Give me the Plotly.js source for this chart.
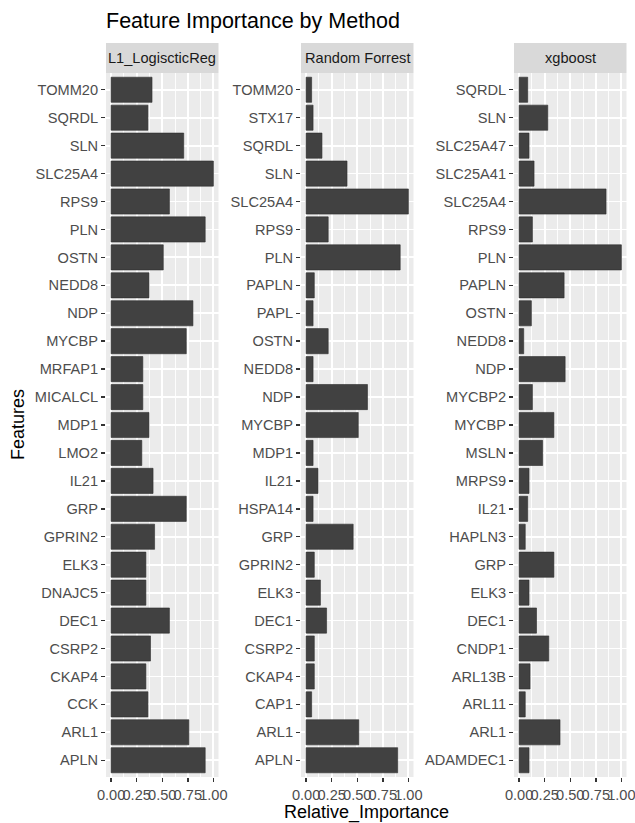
<!DOCTYPE html>
<html>
<head>
<meta charset="utf-8">
<script src="https://cdn.plot.ly/plotly-3.0.1.min.js"></script>
<style>
  html, body { margin: 0; padding: 0; background: #ffffff; }
  #chart { width: 635px; height: 823px; }
</style>
</head>
<body>
<div id="chart"></div>
<script>
// Facet labels, one per model
const methods = ['L1_LogiscticReg', 'Random Forrest', 'xgboost'];

// Features listed top to bottom within each facet
const l1Features = ['TOMM20', 'SQRDL', 'SLN', 'SLC25A4', 'RPS9', 'PLN', 'OSTN', 'NEDD8', 'NDP', 'MYCBP',
  'MRFAP1', 'MICALCL', 'MDP1', 'LMO2', 'IL21', 'GRP', 'GPRIN2', 'ELK3', 'DNAJC5', 'DEC1',
  'CSRP2', 'CKAP4', 'CCK', 'ARL1', 'APLN'];
const l1Importance = [0.40, 0.36, 0.71, 1.00, 0.57, 0.92, 0.51, 0.37, 0.80, 0.735,
  0.31, 0.31, 0.37, 0.30, 0.41, 0.735, 0.425, 0.34, 0.34, 0.57,
  0.385, 0.34, 0.36, 0.76, 0.92];

const rfFeatures = ['TOMM20', 'STX17', 'SQRDL', 'SLN', 'SLC25A4', 'RPS9', 'PLN', 'PAPLN', 'PAPL', 'OSTN',
  'NEDD8', 'NDP', 'MYCBP', 'MDP1', 'IL21', 'HSPA14', 'GRP', 'GPRIN2', 'ELK3', 'DEC1',
  'CSRP2', 'CKAP4', 'CAP1', 'ARL1', 'APLN'];
const rfImportance = [0.054, 0.068, 0.155, 0.40, 1.00, 0.216, 0.92, 0.08, 0.068, 0.216,
  0.068, 0.60, 0.51, 0.068, 0.116, 0.068, 0.46, 0.08, 0.14, 0.20,
  0.08, 0.08, 0.054, 0.515, 0.895];

const xgbFeatures = ['SQRDL', 'SLN', 'SLC25A47', 'SLC25A41', 'SLC25A4', 'RPS9', 'PLN', 'PAPLN', 'OSTN', 'NEDD8',
  'NDP', 'MYCBP2', 'MYCBP', 'MSLN', 'MRPS9', 'IL21', 'HAPLN3', 'GRP', 'ELK3', 'DEC1',
  'CNDP1', 'ARL13B', 'ARL11', 'ARL1', 'ADAMDEC1'];
const xgbImportance = [0.084, 0.28, 0.097, 0.146, 0.85, 0.13, 1.00, 0.44, 0.12, 0.045,
  0.45, 0.13, 0.34, 0.23, 0.097, 0.084, 0.06, 0.34, 0.097, 0.17,
  0.29, 0.107, 0.06, 0.40, 0.097];

const xTickVals = [0, 0.25, 0.5, 0.75, 1.0];
const xTickText = ['0.00', '0.25', '0.50', '0.75', '1.00'];

const W = 635, H = 823;
const FONT = 'Liberation Sans, Arial, Helvetica, sans-serif';

// Panel placement in pixels
const panelX = [[106, 218.5], [301, 413.5], [514, 626.5]];
const panelTop = 73, panelBottom = 777, stripTop = 43;

const featureSets = [l1Features, rfFeatures, xgbFeatures];
const valueSets = [l1Importance, rfImportance, xgbImportance];

const traces = [];
const layout = {
  width: W, height: H,
  margin: { l: 0, r: 0, t: 0, b: 0 },
  paper_bgcolor: '#ffffff',
  plot_bgcolor: '#EBEBEB',
  showlegend: false,
  font: { family: FONT, color: '#4D4D4D' },
  title: {
    text: 'Feature Importance by Method',
    x: 106 / W, xref: 'paper', xanchor: 'left',
    y: 1 - 20 / H, yref: 'paper', yanchor: 'middle',
    font: { family: FONT, size: 21.5, color: '#000000' }
  },
  shapes: [],
  annotations: []
};

for (let i = 0; i < 3; i++) {
  const sfx = i === 0 ? '' : String(i + 1);
  traces.push({
    type: 'bar',
    orientation: 'h',
    x: valueSets[i],
    y: featureSets[i],
    xaxis: 'x' + sfx,
    yaxis: 'y' + sfx,
    width: 0.9,
    marker: { color: '#414141', line: { color: '#2E2E2E', width: 0.6 } },
    hoverinfo: 'x+y'
  });

  const n = featureSets[i].length;
  layout['xaxis' + sfx] = {
    domain: [panelX[i][0] / W, panelX[i][1] / W],
    anchor: 'y' + sfx,
    range: [-0.05, 1.05],
    tickmode: 'array',
    tickvals: xTickVals,
    ticktext: xTickText,
    tickangle: 0,
    ticklabeloverflow: 'allow',
    ticks: 'outside', ticklen: 4, tickwidth: 1.4, tickcolor: '#333333',
    tickfont: { family: FONT, size: 14.6, color: '#4D4D4D' },
    showgrid: true, gridcolor: '#FFFFFF', gridwidth: 1.8,
    minor: { tickmode: 'array', tickvals: [0.125, 0.375, 0.625, 0.875], showgrid: true, gridcolor: '#FFFFFF', gridwidth: 0.9, ticks: '' },
    zeroline: false, showline: false,
    automargin: false, fixedrange: true
  };
  layout['yaxis' + sfx] = {
    domain: [1 - panelBottom / H, 1 - panelTop / H],
    anchor: 'x' + sfx,
    type: 'category',
    categoryorder: 'array',
    categoryarray: featureSets[i],
    range: [n - 0.4, -0.6],
    ticks: 'outside', ticklen: 4, tickwidth: 1.4, tickcolor: '#333333',
    tickfont: { family: FONT, size: 14.6, color: '#4D4D4D' },
    showgrid: true, gridcolor: '#FFFFFF', gridwidth: 1.8,
    zeroline: false, showline: false,
    automargin: false, fixedrange: true
  };

  // facet strip
  layout.shapes.push({
    type: 'rect', xref: 'paper', yref: 'paper', layer: 'below',
    x0: panelX[i][0] / W, x1: panelX[i][1] / W,
    y0: 1 - panelTop / H, y1: 1 - stripTop / H,
    fillcolor: '#D9D9D9', line: { width: 0 }
  });
  layout.annotations.push({
    xref: 'paper', yref: 'paper',
    x: (panelX[i][0] + panelX[i][1]) / 2 / W,
    y: 1 - (stripTop + panelTop) / 2 / H,
    xanchor: 'center', yanchor: 'middle',
    text: methods[i], showarrow: false,
    font: { family: FONT, size: 14.6, color: '#1A1A1A' }
  });
}

// axis titles
layout.annotations.push({
  xref: 'paper', yref: 'paper',
  x: (panelX[0][0] + panelX[2][1]) / 2 / W, y: 1 - 812 / H,
  xanchor: 'center', yanchor: 'middle',
  text: 'Relative_Importance', showarrow: false,
  font: { family: FONT, size: 18, color: '#000000' }
});
layout.annotations.push({
  xref: 'paper', yref: 'paper',
  x: 18 / W, y: 1 - (panelTop + panelBottom) / 2 / H,
  xanchor: 'center', yanchor: 'middle', textangle: -90,
  text: 'Features', showarrow: false,
  font: { family: FONT, size: 18, color: '#000000' }
});

Plotly.newPlot('chart', traces, layout, { displayModeBar: false, staticPlot: true });
</script>
</body>
</html>
